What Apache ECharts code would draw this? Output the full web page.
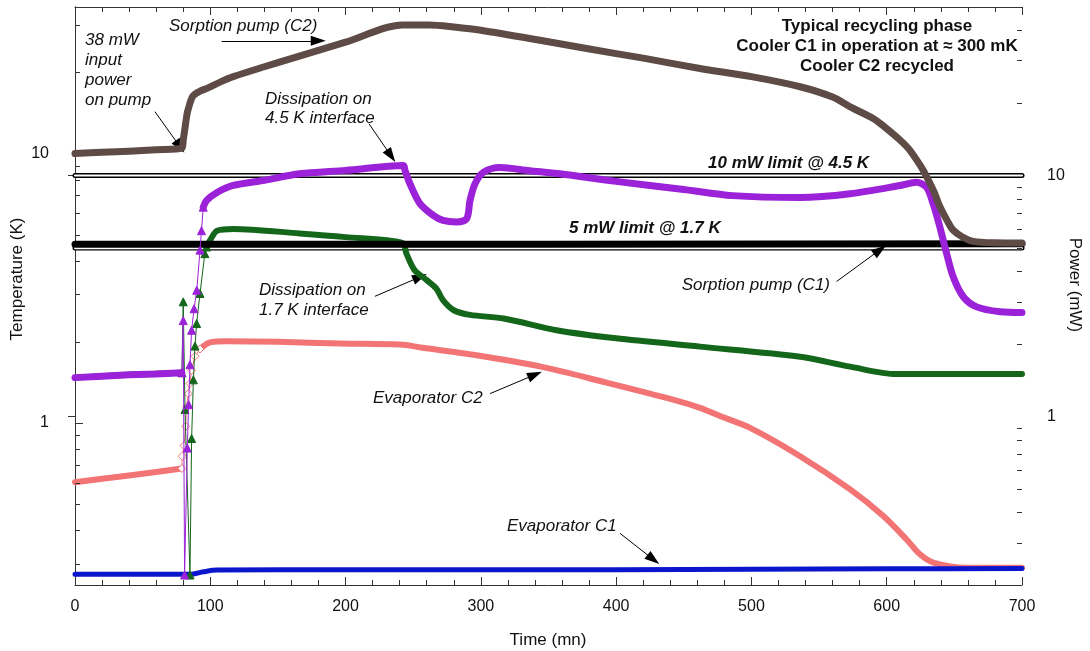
<!DOCTYPE html>
<html><head><meta charset="utf-8">
<script src="https://cdn.jsdelivr.net/npm/echarts@6/dist/echarts.min.js"></script>
<style>html,body{margin:0;padding:0;background:#fff}#c{width:1090px;height:651px}</style>
</head><body><div id="c"></div>
<script>
// ---------------- data (time in mn, temperature in K, power in mW) ----------------
const xTickValues = [0, 100, 200, 300, 400, 500, 600, 700];
const leftMinorTicks = [0.3, 0.4, 0.5, 0.6, 0.7, 0.8, 0.9, 2, 3, 4, 5, 6, 7, 8, 9, 20, 30];
const rightMinorTicks = [0.3, 0.4, 0.5, 0.6, 0.7, 0.8, 0.9, 2, 3, 4, 5, 6, 7, 8, 9, 20, 30, 40];

// Sorption pump (C2) temperature, K
const pumpC2 = [[0,10.0],[20,10.1],[40,10.2],[60,10.33],[79,10.47],[80,11.2],[81.3,12.45],[82.5,13.7],[83.5,14.5],[87,16.3],[92,17.0],[98,17.5],[108,18.5],[117,19.3],[140,21.0],[161,22.6],[200,25.9],[242,30.0],[262,30.0],[280,29.5],[300,28.7],[350,26.0],[400,23.5],[420,22.6],[462,20.7],[500,19.3],[536,17.7],[560,16.2],[573,14.9],[590,13.5],[598,12.6],[610,11.2],[617,10.3],[625,9.0],[629,8.3],[635,7.2],[639,6.4],[645,5.6],[649,5.2],[656,4.9],[664,4.72],[680,4.66],[700,4.65]];

// Sorption pump (C1) temperature, K
const pumpC1 = [[0,4.6],[350,4.6],[700,4.62]];

// Dissipation on 4.5 K interface, mW
const diss45Pre = [[0,1.45],[20,1.47],[40,1.49],[60,1.5],[79,1.52]];
const diss45Jump = [[79,1.52],[80,2.5],[81,0.22],[83,0.74],[84,1.12],[85,1.64],[86.2,2.28],[88,2.8],[90,3.34],[92.4,4.9],[93.5,5.9],[94.8,7.39]];
const diss45Post = [[94.8,7.39],[97.3,7.88],[105,8.5],[116.8,9.09],[140,9.55],[166,10.16],[200,10.5],[242.7,11.0],[243.9,10.5],[247.6,9.24],[255,7.64],[264.8,6.83],[272,6.51],[282,6.41],[289.5,6.62],[292,7.88],[295.7,9.24],[301.8,10.3],[314,10.8],[336,10.47],[358.5,10.16],[400,9.45],[450,8.75],[486,8.25],[536,8.1],[573,8.4],[610,9.09],[622,9.38],[629.4,8.94],[634.3,7.64],[639.3,6.11],[644.3,4.74],[649.2,3.79],[656.6,3.14],[666.5,2.85],[683.7,2.72],[700,2.7]];

// Dissipation on 1.7 K interface, mW
const diss17Pre = [[0,1.45],[40,1.49],[79,1.52]];
const diss17Jump = [[79,1.52],[80,2.99],[81.3,1.07],[85,0.22],[86.2,0.81],[87.5,1.42],[88.7,1.96],[89.9,2.43],[92.4,3.24],[96,4.74],[97.3,5.05]];
const diss17Post = [[97.3,5.05],[100,5.4],[105,5.9],[117,6.0],[166,5.75],[200,5.55],[242,5.25],[245,4.74],[251,4.05],[260,3.68],[267,3.40],[272,3.04],[280,2.76],[292,2.64],[317,2.55],[356,2.28],[400,2.11],[462,1.95],[536,1.77],[573,1.61],[607,1.50],[650,1.50],[700,1.50]];

// Evaporator C2 temperature, K
const evapC2Pre = [[0,0.602],[20,0.62],[40,0.638],[60,0.657],[79,0.677]];
const evapC2Jump = [[79,0.677],[79.3,0.752],[80.6,0.824],[81.8,0.971],[82.5,1.146],[83.7,1.284],[85,1.40],[86.2,1.567],[88.7,1.766],[92.4,1.88]];
const evapC2Post = [[92.4,1.88],[99.8,1.99],[112,2.01],[150,2.0],[196,1.97],[242.6,1.95],[257,1.9],[294.4,1.79],[343.7,1.62],[393,1.41],[442,1.22],[462,1.137],[476.8,1.06],[499,0.958],[536,0.752],[573,0.566],[597.5,0.451],[614.7,0.369],[624.6,0.325],[634.4,0.303],[659,0.29],[700,0.29]];

// Evaporator C1 temperature, K
const evapC1 = [[0,0.274],[85,0.274],[95,0.280],[105,0.284],[200,0.285],[400,0.285],[600,0.287],[700,0.288]];

// Limits, mW
const limit10 = [[0,10],[700,10]];
const limit5 = [[0,5],[700,5]];

// Annotation arrows (start, tip) in time / temperature coordinates
const arrows = [
  [[59.1,14.3],[77.6,10.6]],
  [[108.4,26.2],[179.8,26.2]],
  [[217.3,12.9],[233.6,9.8]],
  [[221.7,2.95],[255,3.48]],
  [[306.8,1.284],[340,1.51]],
  [[402.8,0.389],[427.5,0.311]],
  [[563,3.35],[595,4.39]]
];

// ---------------- chart ----------------
const FONT = '"Liberation Sans", Arial, Helvetica, sans-serif';
const AX = '#333';
const chart = echarts.init(document.getElementById('c'), null, {renderer: 'canvas'});

function thick(name, data, color, width, yIdx, z, smooth) {
  return {type: 'line', name, data, yAxisIndex: yIdx, symbol: 'none', showSymbol: false,
    smooth: smooth || false,
    lineStyle: {color, width, cap: 'round', join: 'round'}, z, silent: true, animation: false};
}
function jump(name, data, color, symbol, size, yIdx, z, fill) {
  return {type: 'line', name, data, yAxisIndex: yIdx, symbol, symbolSize: size, showSymbol: true, showAllSymbol: true,
    itemStyle: {color: fill || color, borderColor: color, borderWidth: 1},
    lineStyle: {color, width: 1}, z, silent: true, animation: false};
}
function tickSeries(values, yIdx, xEdge, dir) {
  return {type: 'custom', yAxisIndex: yIdx, data: values.map(v => [xEdge, v]), silent: true, z: 30, clip: false, animation: false,
    renderItem(params, api) {
      const p = api.coord([api.value(0), api.value(1)]);
      const y = Math.round(p[1]) + 0.5;
      return {type: 'line', shape: {x1: p[0], y1: y, x2: p[0] + dir * 5, y2: y}, style: {stroke: AX, lineWidth: 1}};
    }};
}

const BROWN = '#5f4b45', PURPLE = '#9b22d8', GREEN = '#14661b', RED = '#f27474', BLUE = '#0b16cc';
const SM = 0.3;

const txt = (x, y, text, opts) => Object.assign({type: 'text', x, y, silent: true,
  style: Object.assign({text, font: 'italic 17px ' + FONT, fill: '#111', align: 'left', verticalAlign: 'middle'}, opts || {})});

const option = {
  animation: false,
  backgroundColor: '#fff',
  grid: {left: 75, right: 68, top: 7, bottom: 66, containLabel: false},
  xAxis: [
    {type: 'value', min: 0, max: 700, interval: 100, position: 'bottom',
      axisLine: {show: true, lineStyle: {color: AX, width: 1}},
      axisTick: {show: true, inside: true, length: 8, lineStyle: {color: AX}},
      minorTick: {show: true, splitNumber: 5, length: 5, lineStyle: {color: AX}},
      axisLabel: {color: '#111', fontSize: 16, fontFamily: FONT, margin: 14,
        formatter: v => xTickValues.includes(v) ? String(v) : ''},
      splitLine: {show: false}},
    {type: 'value', min: 0, max: 700, interval: 100, position: 'top',
      axisLine: {show: true, lineStyle: {color: AX, width: 1}},
      axisTick: {show: true, inside: true, length: 8, lineStyle: {color: AX}},
      minorTick: {show: true, splitNumber: 5, length: 5, lineStyle: {color: AX}},
      axisLabel: {show: false}, splitLine: {show: false}}
  ],
  yAxis: [
    {type: 'log', logBase: 10, min: 0.25, max: 35, position: 'left',
      axisLine: {show: true, lineStyle: {color: AX, width: 1}},
      axisTick: {show: true, inside: true, length: 8, lineStyle: {color: AX}},
      axisLabel: {color: '#111', fontSize: 16, fontFamily: FONT, margin: 26, showMinLabel: false, showMaxLabel: false},
      splitLine: {show: false}},
    {type: 'log', logBase: 10, min: 0.2, max: 50, position: 'right',
      axisLine: {show: true, lineStyle: {color: AX, width: 1}},
      axisTick: {show: true, inside: true, length: 7, lineStyle: {color: AX}},
      axisLabel: {color: '#111', fontSize: 16, fontFamily: FONT, margin: 25, showMinLabel: false, showMaxLabel: false},
      splitLine: {show: false}}
  ],
  series: [
    // limit lines (double black lines)
    thick('10 mW limit', limit10, '#000', 5, 1, 2),
    thick('10 mW limit inner', limit10, '#fff', 2.2, 1, 2.1),
    thick('5 mW limit', limit5, '#000', 5, 1, 2),
    thick('5 mW limit inner', limit5, '#fff', 2.2, 1, 2.1),
    // evaporators
    thick('Evaporator C2', evapC2Pre, RED, 6, 0, 3),
    jump('Evaporator C2 jump', evapC2Jump, RED, 'diamond', 8, 0, 3, '#fff'),
    thick('Evaporator C2 ', evapC2Post, RED, 6, 0, 3, SM),
    thick('Evaporator C1', evapC1, BLUE, 5, 0, 4, SM),
    // 1.7 K dissipation
    thick('Dissipation 1.7 K', diss17Pre, GREEN, 6, 1, 5),
    jump('Dissipation 1.7 K jump', diss17Jump, GREEN, 'triangle', 8, 1, 5),
    thick('Dissipation 1.7 K ', diss17Post, GREEN, 6, 1, 5, SM),
    // sorption pump C1
    thick('Sorption pump (C1)', pumpC1, '#000', 7, 0, 6),
    // 4.5 K dissipation
    thick('Dissipation 4.5 K', diss45Pre, PURPLE, 7, 1, 7),
    jump('Dissipation 4.5 K jump', diss45Jump, PURPLE, 'triangle', 8, 1, 7),
    thick('Dissipation 4.5 K ', diss45Post, PURPLE, 7, 1, 7, SM),
    // sorption pump C2
    thick('Sorption pump (C2)', pumpC2, BROWN, 7, 0, 8, SM),
    // minor ticks on the log axes
    tickSeries(leftMinorTicks, 0, 0, 1),
    tickSeries(rightMinorTicks, 1, 700, -1),
    // annotation arrows
    {type: 'line', name: 'annotations', data: [[0, 1]], yAxisIndex: 0, symbol: 'none', lineStyle: {opacity: 0}, z: 20, silent: true,
      markLine: {silent: true, animation: false, symbol: ['none', 'triangle'], symbolSize: [10, 15],
        label: {show: false}, lineStyle: {color: '#000', width: 1, type: 'solid'},
        emphasis: {disabled: true},
        data: arrows.map(a => [{coord: a[0]}, {coord: a[1]}])}}
  ],
  graphic: [
    // axis names
    {type: 'text', x: 548, y: 640, silent: true, style: {text: 'Time (mn)', font: '17px ' + FONT, fill: '#111', align: 'center', verticalAlign: 'middle'}},
    {type: 'text', x: 17, y: 279, rotation: Math.PI / 2, silent: true, style: {text: 'Temperature (K)', font: '17px ' + FONT, fill: '#111', align: 'center', verticalAlign: 'middle'}},
    {type: 'text', x: 1075, y: 285, rotation: -Math.PI / 2, silent: true, style: {text: 'Power (mW)', font: '17px ' + FONT, fill: '#111', align: 'center', verticalAlign: 'middle'}},
    // title block
    txt(877, 16, 'Typical recycling phase\nCooler C1 in operation at \u2248 300 mK\nCooler C2 recycled',
      {font: 'bold 17px ' + FONT, align: 'center', verticalAlign: 'top', lineHeight: 20}),
    // annotations
    txt(85, 30, '38 mW\ninput\npower\non pump', {verticalAlign: 'top', lineHeight: 20}),
    txt(169, 26, 'Sorption pump (C2)'),
    txt(265, 90, 'Dissipation on\n4.5 K interface', {verticalAlign: 'top', lineHeight: 19}),
    txt(259, 280, 'Dissipation on\n1.7 K interface', {verticalAlign: 'top', lineHeight: 20}),
    txt(373, 398, 'Evaporator C2'),
    txt(507, 526, 'Evaporator C1'),
    txt(830, 285, 'Sorption pump (C1)', {align: 'right'}),
    txt(708, 163, '10 mW limit @ 4.5 K', {font: 'italic bold 17px ' + FONT}),
    txt(569, 228, '5 mW limit @ 1.7 K', {font: 'italic bold 17px ' + FONT})
  ]
};
chart.setOption(option);
</script>
</body></html>
